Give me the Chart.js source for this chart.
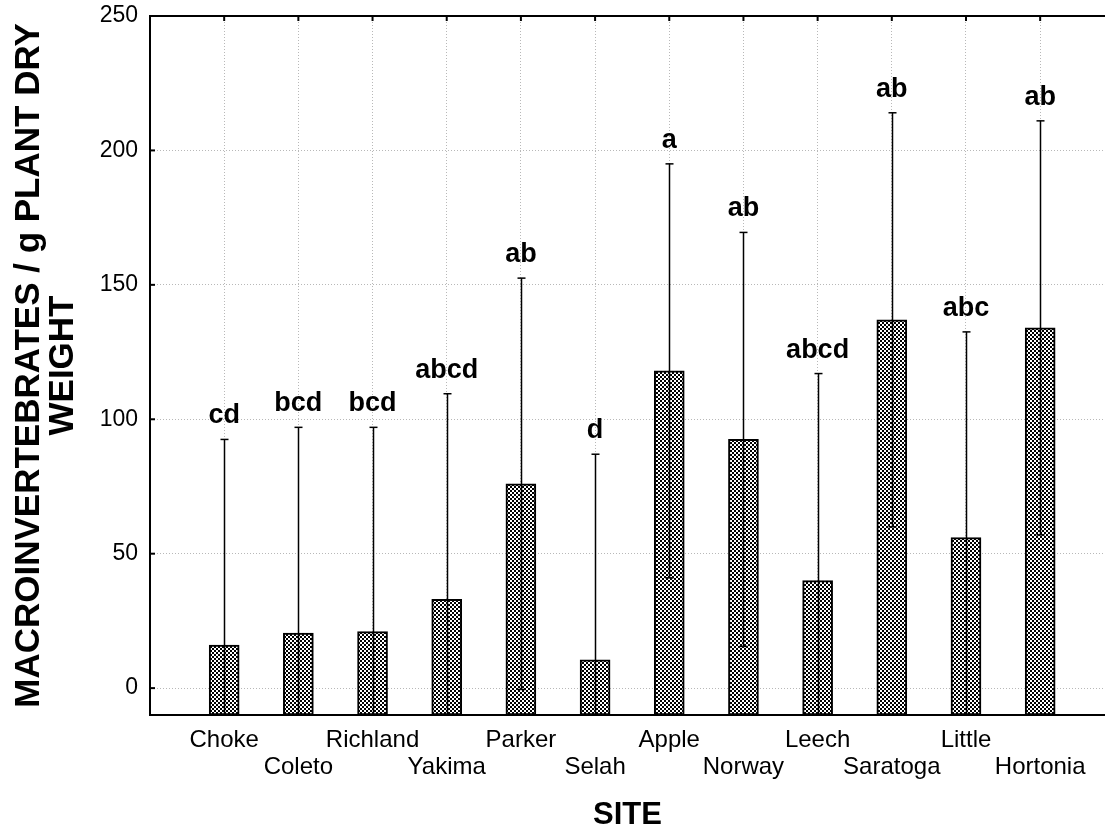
<!DOCTYPE html>
<html>
<head>
<meta charset="utf-8">
<script src="https://cdn.jsdelivr.net/npm/chart.js@4.4.1/dist/chart.umd.min.js"></script>
<style>
  html, body { margin: 0; padding: 0; background: #ffffff; }
  #wrap { width: 1105px; height: 833px; position: relative; }
</style>
</head>
<body>
<div id="wrap"><canvas id="c"></canvas></div>
<script>
// ---- data ----
const sites   = ['Choke','Coleto','Richland','Yakima','Parker','Selah','Apple','Norway','Leech','Saratoga','Little','Hortonia'];
const means   = [16, 20.5, 21, 33, 76, 10.5, 118, 92.5, 40, 137, 56, 134];
const uppers  = [92.5, 97, 97, 109.5, 152.5, 87, 195, 169.5, 117, 214, 132.5, 211];
const letters = ['cd','bcd','bcd','abcd','ab','d','a','ab','abcd','ab','abc','ab'];
const yTicks  = [0, 50, 100, 150, 200, 250];
const Y_MIN = -10, Y_MAX = 250;
const X_MAX = 12.874;

// checkerboard fill
function makePattern() {
  const p = document.createElement('canvas');
  p.width = 4; p.height = 4;
  const g = p.getContext('2d');
  g.fillStyle = '#ffffff'; g.fillRect(0, 0, 4, 4);
  g.fillStyle = '#000000';
  g.fillRect(0, 0, 2, 2); g.fillRect(2, 2, 2, 2);
  return g.createPattern(p, 'repeat');
}

const decorPlugin = {
  id: 'decor',
  afterDraw(chart) {
    const ctx = chart.ctx, a = chart.chartArea;
    const xs = chart.scales.x, ys = chart.scales.y;
    ctx.save();
    // top frame line
    ctx.strokeStyle = '#000'; ctx.lineWidth = 2;
    ctx.beginPath(); ctx.moveTo(a.left - 1, a.top); ctx.lineTo(a.right, a.top); ctx.stroke();
    // inner tick marks
    yTicks.forEach(v => {
      const y = ys.getPixelForValue(v);
      ctx.beginPath(); ctx.moveTo(a.left, y); ctx.lineTo(a.left + 5, y); ctx.stroke();
    });
    sites.forEach((s, i) => {
      const x = xs.getPixelForValue(i + 1);
      ctx.beginPath(); ctx.moveTo(x, a.top); ctx.lineTo(x, a.top + 5); ctx.stroke();
    });
    // error bars
    ctx.lineWidth = 1.5;
    const yBottom = ys.getPixelForValue(Y_MIN);
    sites.forEach((s, i) => {
      const x = Math.round(xs.getPixelForValue(i + 1)) + 0.5;
      const se = uppers[i] - means[i];
      const lo = means[i] - se;
      const yUp = ys.getPixelForValue(uppers[i]);
      const yLo = lo > Y_MIN ? ys.getPixelForValue(lo) : yBottom;
      ctx.beginPath(); ctx.moveTo(x, yUp); ctx.lineTo(x, yLo); ctx.stroke();
      ctx.beginPath(); ctx.moveTo(x - 4, yUp); ctx.lineTo(x + 4, yUp); ctx.stroke();
      if (lo > Y_MIN) {
        ctx.beginPath(); ctx.moveTo(x - 4, yLo); ctx.lineTo(x + 4, yLo); ctx.stroke();
      }
      // significance letters
      ctx.fillStyle = '#000';
      ctx.font = 'bold 27px "Liberation Sans", Arial, sans-serif';
      ctx.textAlign = 'center';
      ctx.textBaseline = 'alphabetic';
      ctx.fillText(letters[i], xs.getPixelForValue(i + 1), yUp - 16);
    });
    ctx.restore();
  }
};

const ctx = document.getElementById('c').getContext('2d');
new Chart(ctx, {
  type: 'bar',
  data: {
    datasets: [{
      data: sites.map((s, i) => ({ x: i + 1, y: means[i] })),
      base: Y_MIN,
      backgroundColor: makePattern(),
      borderColor: '#000',
      borderWidth: 2,
      borderSkipped: false,
      barThickness: 30
    }]
  },
  plugins: [decorPlugin],
  options: {
    responsive: true,
    maintainAspectRatio: false,
    animation: false,
    layout: { padding: { top: 16, right: 0, left: 0, bottom: 0 } },
    plugins: { legend: { display: false }, tooltip: { enabled: false } },
    scales: {
      x: {
        type: 'linear',
        offset: false,
        min: 0, max: X_MAX,
        afterBuildTicks(scale) { scale.ticks = sites.map((s, i) => ({ value: i + 1 })); },
        afterFit(scale) { scale.height = 118; scale.paddingLeft = 0; scale.paddingRight = 0; },
        ticks: {
          autoSkip: false, maxRotation: 0, minRotation: 0,
          padding: 12,
          color: '#000',
          font: { family: '"Liberation Sans", Arial, sans-serif', size: 24, lineHeight: 1.13 },
          callback(v) { const i = Math.round(v) - 1; return i % 2 === 0 ? [sites[i]] : ['', sites[i]]; }
        },
        grid: { color: '#b8b8b8', lineWidth: 1, drawTicks: false, offset: false },
        border: { display: true, color: '#000', width: 2, dash: [1, 2] },
        title: {
          display: true, text: 'SITE', color: '#000',
          font: { family: '"Liberation Sans", Arial, sans-serif', size: 31, weight: 'bold', lineHeight: 1.0 },
          padding: { top: 0, bottom: 2 }
        }
      },
      y: {
        min: Y_MIN, max: Y_MAX,
        afterBuildTicks(scale) { scale.ticks = yTicks.map(v => ({ value: v })); },
        afterFit(scale) { scale.width = 150; scale.paddingTop = 0; scale.paddingBottom = 0; },
        ticks: {
          padding: 12, color: '#000',
          font: { family: '"Liberation Sans", Arial, sans-serif', size: 23 }
        },
        grid: { color: '#b8b8b8', lineWidth: 1, drawTicks: false },
        border: { display: true, color: '#000', width: 2, dash: [1, 2] },
        title: {
          display: true,
          text: ['MACROINVERTEBRATES / g PLANT DRY', 'WEIGHT'],
          color: '#000',
          font: { family: '"Liberation Sans", Arial, sans-serif', size: 35, weight: 'bold', lineHeight: 0.97 },
          padding: { top: 12, bottom: 0 }
        }
      }
    }
  }
});
</script>
</body>
</html>
